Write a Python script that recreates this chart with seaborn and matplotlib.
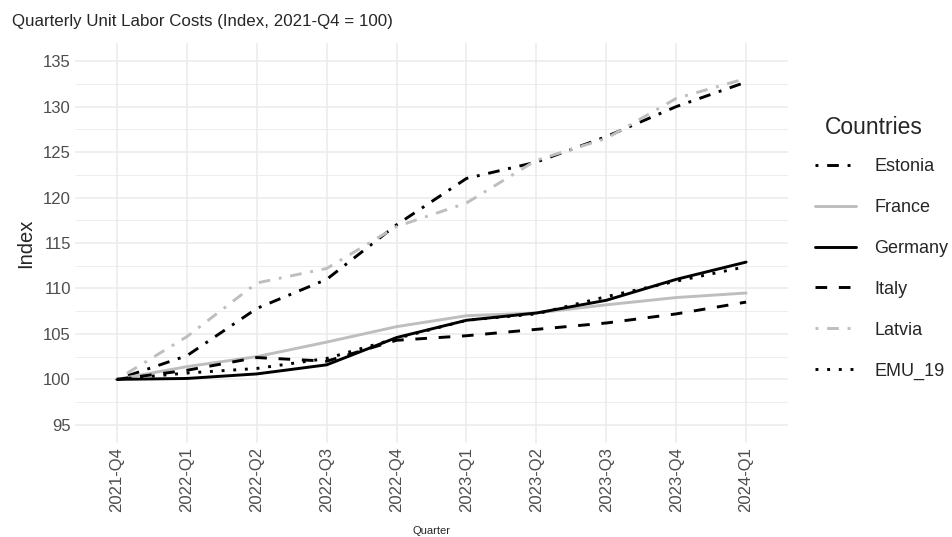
import numpy as np
import pandas as pd
import matplotlib
matplotlib.use("Agg")
import matplotlib.pyplot as plt
import seaborn as sns

sns.set_theme(style="whitegrid")
plt.rcParams['font.family'] = ['Liberation Sans', 'DejaVu Sans']

quarters = ["2021-Q4", "2022-Q1", "2022-Q2", "2022-Q3", "2022-Q4",
            "2023-Q1", "2023-Q2", "2023-Q3", "2023-Q4", "2024-Q1"]
estonia = [100, 102.6, 107.8, 111.0, 117.0, 122.1, 123.9, 126.7, 130.0, 132.7]
france = [100, 101.4, 102.5, 104.1, 105.8, 107.0, 107.3, 108.2, 109.0, 109.5]
germany = [100, 100.1, 100.6, 101.6, 104.6, 106.5, 107.3, 108.7, 111.0, 112.9]
italy = [100, 101.0, 102.4, 102.0, 104.3, 104.8, 105.5, 106.2, 107.2, 108.5]
latvia = [100, 104.7, 110.6, 112.2, 116.8, 119.4, 124.1, 126.5, 130.9, 133.1]
emu19 = [100, 100.7, 101.2, 102.3, 104.5, 106.5, 107.2, 109.1, 110.8, 112.4]

countries = ["Estonia", "France", "Germany", "Italy", "Latvia", "EMU_19"]
series = [estonia, france, germany, italy, latvia, emu19]

df = pd.DataFrame({
    "Quarter": quarters * len(countries),
    "Index": np.concatenate(series),
    "Countries": np.repeat(countries, len(quarters)),
})
df["x"] = df["Quarter"].map({q: i for i, q in enumerate(quarters)})

palette = {"Estonia": "black", "France": "#bebebe", "Germany": "black",
           "Italy": "black", "Latvia": "#bebebe", "EMU_19": "black"}
dashes = {"Estonia": (1, 3, 4, 3), "France": "", "Germany": "",
          "Italy": (4, 4), "Latvia": (1, 3, 4, 3), "EMU_19": (1, 3)}

fig = plt.figure(figsize=(9.52, 5.37), dpi=100)
ax = fig.add_axes([0.0788, 0.175, 0.749, 0.745])

sns.lineplot(data=df, x="x", y="Index", hue="Countries", style="Countries",
             palette=palette, dashes=dashes, linewidth=2.1, ax=ax)

ax.set_xlim(-0.6, len(quarters) - 1 + 0.6)
ax.set_ylim(93, 137)
ax.set_xticks(range(len(quarters)))
ax.set_xticklabels(quarters, rotation=90)
ax.set_yticks(np.arange(95, 136, 5))
ax.set_yticks(np.arange(97.5, 136, 5), minor=True)
ax.grid(True, which="major", color="#ebebeb", linewidth=1.1)
ax.grid(True, which="minor", axis="y", color="#ebebeb", linewidth=0.6)
for s in ax.spines.values():
    s.set_visible(False)
ax.tick_params(axis="both", which="both", length=0, labelsize=12, labelcolor="#4d4d4d", pad=3)

ax.set_title("Quarterly Unit Labor Costs (Index, 2021-Q4 = 100)", loc="left",
             fontsize=12.2, x=-0.089, pad=12)
ax.set_ylabel("Index", fontsize=14.5, labelpad=6)
ax.set_xlabel("Quarter", fontsize=8, labelpad=10)

# legend entries, with the title placed separately
leg = ax.legend(loc="upper left", bbox_to_anchor=(1.027, 0.73), borderaxespad=0,
                frameon=False, fontsize=13, handlelength=2.3,
                labelspacing=1.32, handletextpad=1.0)
fig.text(825 / 952, 1 - 128 / 537, "Countries", fontsize=16.5, ha="left", va="center")

fig.savefig("out.png", dpi=100)
